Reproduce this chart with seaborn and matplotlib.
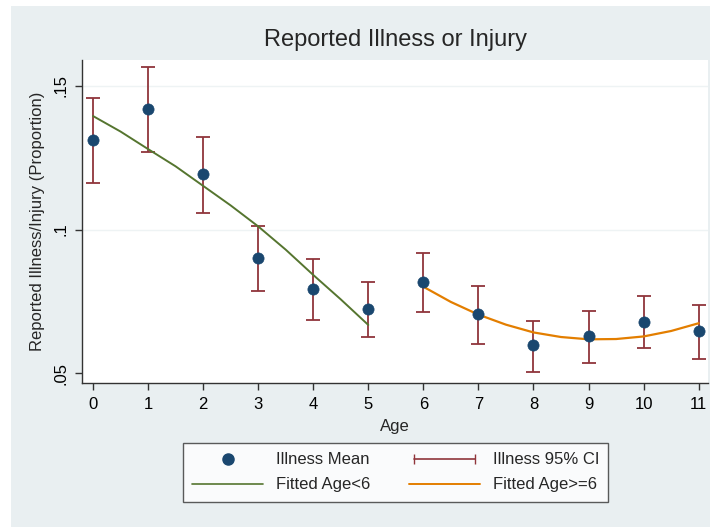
import matplotlib
matplotlib.use("Agg")
import matplotlib.pyplot as plt
from matplotlib.lines import Line2D
from matplotlib.legend_handler import HandlerLine2D
from matplotlib.patches import Rectangle
import seaborn as sns
import pandas as pd

# ---- data ----
age = [0, 1, 2, 3, 4, 5, 6, 7, 8, 9, 10, 11]
illness_mean = [0.1312, 0.1420, 0.1193, 0.0900, 0.0792, 0.0724,
                0.0819, 0.0706, 0.0597, 0.0631, 0.0680, 0.0647]
ci_low = [0.1161, 0.1269, 0.1059, 0.0786, 0.0684, 0.0625,
          0.0712, 0.0603, 0.0503, 0.0535, 0.0589, 0.0550]
ci_high = [0.1457, 0.1565, 0.1321, 0.1013, 0.0897, 0.0819,
           0.0920, 0.0804, 0.0683, 0.0718, 0.0769, 0.0737]

fit_young_age = [0, 0.5, 1, 1.5, 2, 2.5, 3, 3.5, 4, 4.5, 5]
fit_young_val = [0.1395, 0.1341, 0.1280, 0.1220, 0.1152, 0.1084,
                 0.1011, 0.0930, 0.0842, 0.0757, 0.0668]
fit_old_age = [6, 6.5, 7, 7.5, 8, 8.5, 9, 9.5, 10, 10.5, 11]
fit_old_val = [0.0801, 0.0748, 0.0704, 0.0669, 0.0642, 0.0626,
               0.0618, 0.0619, 0.0628, 0.0647, 0.0674]

x_ticks = list(range(12))
y_ticks = [0.05, 0.10, 0.15]
y_tick_labels = [".05", ".1", ".15"]

title = "Reported Illness or Injury"
x_label = "Age"
y_label = "Reported Illness/Injury (Proportion)"
legend_labels = ["Illness Mean", "Fitted Age<6", "Illness 95% CI", "Fitted Age>=6"]

# ---- styling ----
NAVY = "#1a476f"
MAROON = "#90353b"
GREEN = "#55752f"
ORANGE = "#e37e00"
BG = "#e9eff1"

sns.set_style("ticks")
plt.rcParams["font.family"] = ["Liberation Sans", "DejaVu Sans"]

df = pd.DataFrame({"age": age, "mean": illness_mean, "lo": ci_low, "hi": ci_high})
df_y = pd.DataFrame({"age": fit_young_age, "fit": fit_young_val})
df_o = pd.DataFrame({"age": fit_old_age, "fit": fit_old_val})

fig = plt.figure(figsize=(7.16, 5.27), dpi=100, facecolor="white")
fig.patches.append(Rectangle((11 / 716, 0), (710 - 11) / 716, (527 - 6) / 527,
                             transform=fig.transFigure, facecolor=BG,
                             edgecolor="none", zorder=-10))

ax = fig.add_axes([82 / 716, (527 - 383) / 527, (708 - 82) / 716, (383 - 60) / 527])
ax.set_facecolor("white")

for yv in [0.10, 0.15]:
    ax.axhline(yv, color="#eef3f4", lw=1.0, zorder=0)

ax.errorbar(df["age"], df["mean"],
            yerr=[df["mean"] - df["lo"], df["hi"] - df["mean"]],
            fmt="none", ecolor=MAROON, elinewidth=1.3, capsize=5, capthick=1.3,
            zorder=2)
sns.lineplot(data=df_y, x="age", y="fit", ax=ax, color=GREEN, lw=1.4,
             estimator=None, zorder=3)
sns.lineplot(data=df_o, x="age", y="fit", ax=ax, color=ORANGE, lw=1.6,
             estimator=None, zorder=3)
sns.scatterplot(data=df, x="age", y="mean", ax=ax, color=NAVY, s=65,
                edgecolor=NAVY, linewidth=0.5, zorder=4)

ax.set_xlim(-0.2, 11.17)
ax.set_ylim(0.0466, 0.1590)
ax.set_xticks(x_ticks)
ax.set_xticklabels([str(t) for t in x_ticks])
ax.set_yticks(y_ticks)
ax.set_yticklabels(y_tick_labels, rotation=90, va="center")

for s in ["top", "right"]:
    ax.spines[s].set_visible(False)
for s in ["left", "bottom"]:
    ax.spines[s].set_color("#333333")
    ax.spines[s].set_linewidth(1.0)
ax.tick_params(axis="both", direction="out", length=5, width=1.0,
               color="#333333", labelsize=12, labelcolor="black", pad=5)

ax.set_xlabel(x_label, fontsize=12, labelpad=5)
ax.set_ylabel(y_label, fontsize=12, labelpad=6)
fig.text(395 / 716, 1 - 40 / 527, title, ha="center", va="center", fontsize=17)

handles = [
    Line2D([], [], marker="o", color=NAVY, linestyle="none", markersize=8),
    Line2D([], [], color=GREEN, lw=1.2),
    Line2D([], [], color=MAROON, lw=1.2, marker="|", markersize=7),
    Line2D([], [], color=ORANGE, lw=1.4),
]
leg = fig.legend(handles, legend_labels, ncol=2, loc="center",
                 bbox_to_anchor=(395.5 / 716, 1 - 472.5 / 527),
                 fontsize=12, frameon=True, fancybox=False,
                 handlelength=4.3, handletextpad=0.75, columnspacing=2.3,
                 borderpad=0.55, labelspacing=0.6,
                 handler_map={handles[2]: HandlerLine2D(numpoints=2)})
leg.get_frame().set_edgecolor("#333333")
leg.get_frame().set_linewidth(1.0)
leg.get_frame().set_facecolor("white")

fig.savefig("out.png", dpi=100, facecolor=fig.get_facecolor())
